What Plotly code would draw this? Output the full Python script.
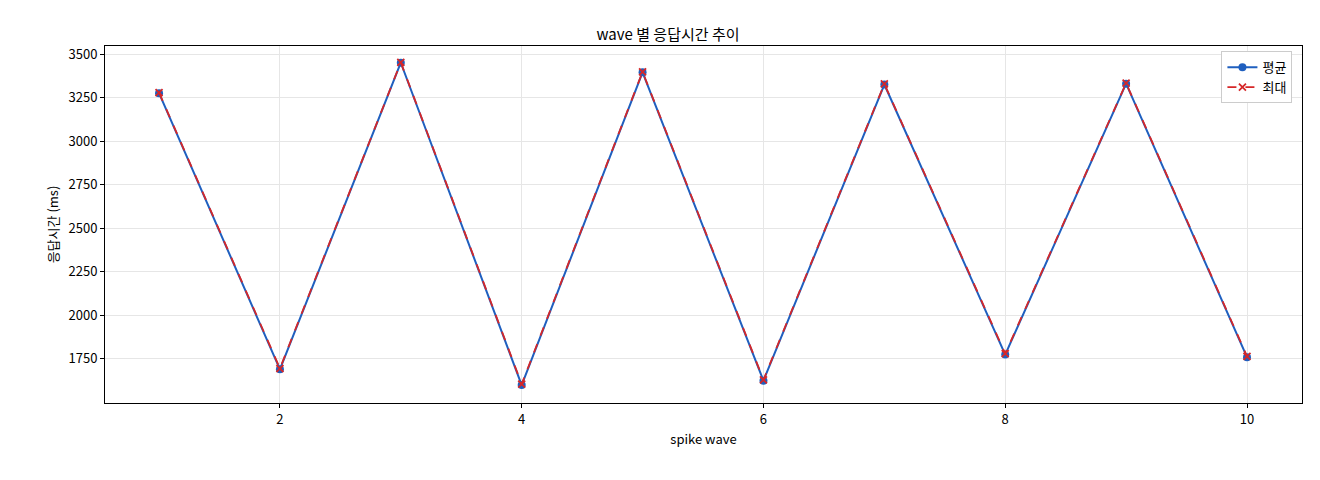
import plotly.graph_objects as go

waves = [1, 2, 3, 4, 5, 6, 7, 8, 9, 10]
avg_ms = [3275, 1690, 3450, 1600, 3395, 1625, 3325, 1775, 3330, 1760]
max_ms = [3278, 1695, 3452, 1605, 3398, 1630, 3328, 1780, 3333, 1765]
y_ticks = [1750, 2000, 2250, 2500, 2750, 3000, 3250, 3500]

fig = go.Figure()
fig.add_trace(go.Scatter(x=waves, y=avg_ms, name="평균", mode="lines+markers",
                         line=dict(color="#1f5fbf", width=2),
                         marker=dict(symbol="circle", size=8, color="#1f5fbf")))
fig.add_trace(go.Scatter(x=waves, y=max_ms, name="최대", mode="lines+markers",
                         line=dict(color="#d62728", width=1.8, dash="dash"),
                         marker=dict(symbol="x-thin", size=7, color="#d62728",
                                     line=dict(color="#d62728", width=1.8))))

axis_style = dict(showline=True, linecolor="black", linewidth=1, mirror=True,
                  ticks="outside", ticklen=4, tickcolor="black",
                  showgrid=True, gridcolor="#e6e6e6", zeroline=False,
                  title_font=dict(size=13), tickfont=dict(size=13))
fig.update_xaxes(range=[0.553, 10.455], tickvals=[2, 4, 6, 8, 10],
                 title_text="spike wave", title_standoff=8, **axis_style)
fig.update_yaxes(range=[1497, 3546], tickvals=y_ticks,
                 title_text="응답시간 (ms)", title_standoff=6, **axis_style)

fig.update_layout(
    width=1320, height=480,
    margin=dict(l=97, r=26, t=38, b=85, autoexpand=False),
    plot_bgcolor="white", paper_bgcolor="white",
    font=dict(family="Noto Sans CJK KR", size=13, color="black"),
    title=dict(text="wave 별 응답시간 추이", x=0.5, xanchor="center",
               y=0.955, font=dict(size=15)),
    legend=dict(x=0.992, y=0.985, xanchor="right", yanchor="top",
                bordercolor="#cccccc", borderwidth=1, bgcolor="white",
                font=dict(size=13)),
    showlegend=True,
)

fig.write_html("out.html")
